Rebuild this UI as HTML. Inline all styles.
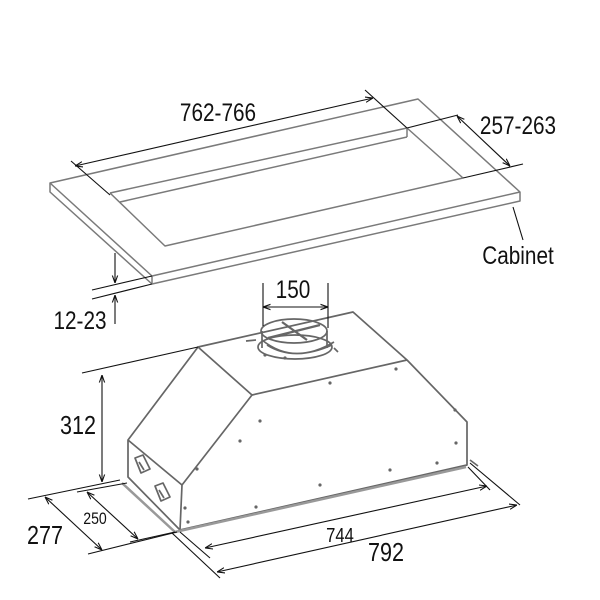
<!DOCTYPE html>
<html><head><meta charset="utf-8"><style>
html,body{margin:0;padding:0;background:#fff}
svg{display:block}
text{font-family:"Liberation Sans",sans-serif;fill:#111}
</style></head><body>
<svg width="600" height="600" viewBox="0 0 600 600" xmlns="http://www.w3.org/2000/svg">
<defs>
<marker id="a" viewBox="0 0 10 10" refX="10" refY="5" markerWidth="7" markerHeight="7" orient="auto-start-reverse"><path d="M0,1.5 L10,5 L0,8.5" fill="none" stroke="#111" stroke-width="1.4"/></marker>
</defs>
<!-- Cabinet -->
<g fill="none" stroke="#7a7a7a" stroke-width="1.5" stroke-linejoin="round">
<path d="M50,183 L418,99 L520,192 L520,201 L152,284 L50,192 Z"/>
<path d="M50,183 L152,276 L520,192"/>
<path d="M152,276 L152,284"/>
<path d="M110,193 L407,128 L463,178"/>
<path d="M120,202 L407,137"/>
<path d="M110,193 L165,246 L463,178"/>
<path d="M407,128 L407,137"/>
</g>
<!-- Cabinet dims -->
<g fill="none" stroke="#111" stroke-width="1.1">
<path d="M71,161 L110,195"/>
<path d="M365,90 L407,128"/>
<path d="M75,166 L373,98" marker-start="url(#a)" marker-end="url(#a)"/>
<path d="M407,128 L458,115"/>
<path d="M463,178 L523,164"/>
<path d="M457,116 L510,166" marker-start="url(#a)" marker-end="url(#a)"/>
<path d="M513,207 L523,240"/>
<path d="M92,290 L152,276"/>
<path d="M92,299 L152,284"/>
<path d="M115,253 L115,283" marker-end="url(#a)"/>
<path d="M115,324 L115,295" marker-end="url(#a)"/>
</g>
<g font-size="25">
<text x="218" y="121" text-anchor="middle" transform="translate(218 0) scale(0.83 1) translate(-218 0)">762-766</text>
<text x="518" y="134" text-anchor="middle" transform="translate(518 0) scale(0.83 1) translate(-518 0)">257-263</text>
<text x="518" y="264" text-anchor="middle" transform="translate(518 0) scale(0.83 1) translate(-518 0)">Cabinet</text>
<text x="80" y="329" text-anchor="middle" transform="translate(80 0) scale(0.83 1) translate(-80 0)">12-23</text>
</g>
<!-- Hood -->
<g fill="none" stroke="#666" stroke-width="1.7" stroke-linejoin="round">
<path d="M198,347 L353,312 L407,360 L467,422 L467,465 L180,530 L128,477 L128,440 Z"/>
<path d="M198,347 L252,395 L407,360"/>
<path d="M252,395 L182,485 L180,530"/>
<path d="M128,440 L182,485"/>
<path d="M122,483 L175,532 L466,467" stroke-width="2.5" stroke="#999"/>
<path d="M470,460 L478,466"/>
<path d="M135,458 l8,-3 l7,14 l-9,4 z M139,462 l5,8"/>
<path d="M155,486 l8,-3 l7,14 l-9,4 z M159,490 l5,8"/>
<path d="M267,345 Q294,362 332,345 M262,340 Q294,366 334,342"/>
<ellipse cx="295" cy="347" rx="37" ry="12"/>
<path d="M262,331 L262,348 M327,331 L327,348"/>
<ellipse cx="294" cy="331" rx="33" ry="12"/>
<path d="M268,338 L320,325 M282,322 L307,340" stroke-width="2.2"/>
<path d="M246,341 l10,-1 M334,348 l4,4"/>
</g>
<g fill="#666">
<circle cx="260" cy="421" r="1.6"/><circle cx="240" cy="441" r="1.6"/><circle cx="197" cy="469" r="1.6"/>
<circle cx="185" cy="508" r="1.6"/><circle cx="188" cy="522" r="1.6"/><circle cx="256" cy="507" r="1.6"/>
<circle cx="320" cy="485" r="1.6"/><circle cx="390" cy="470" r="1.6"/><circle cx="456" cy="443" r="1.6"/>
<circle cx="330" cy="383" r="1.6"/><circle cx="396" cy="369" r="1.6"/><circle cx="455" cy="410" r="1.6"/>
<circle cx="437" cy="463" r="1.6"/><circle cx="285" cy="358" r="1.6"/><circle cx="265" cy="355" r="1.6"/>
</g>
<!-- Hood dims -->
<g fill="none" stroke="#111" stroke-width="1.1">
<path d="M263,283 L263,326 M328,283 L328,328"/>
<path d="M263,307 L328,307" marker-start="url(#a)" marker-end="url(#a)"/>
<path d="M82,373 L198,347"/>
<path d="M102,375 L102,482" marker-start="url(#a)" marker-end="url(#a)"/>
<path d="M28,499 L120,480"/>
<path d="M77,492 L127,483"/>
<path d="M45,497 L102,550" marker-start="url(#a)" marker-end="url(#a)"/>
<path d="M88,554 L177,532"/>
<path d="M87,492 L138,539" marker-start="url(#a)" marker-end="url(#a)"/>
<path d="M130,542 L175,532"/>
<path d="M180,532 L210,558"/>
<path d="M468,467 L490,490"/>
<path d="M205,548 L487,486" marker-start="url(#a)" marker-end="url(#a)"/>
<path d="M172,533 L220,578"/>
<path d="M470,463 L520,505"/>
<path d="M217,572 L517,505" marker-start="url(#a)" marker-end="url(#a)"/>
</g>
<text x="293" y="298" font-size="25" text-anchor="middle" transform="translate(293 0) scale(0.83 1) translate(-293 0)">150</text>
<text x="78" y="434" font-size="26" text-anchor="middle" transform="translate(78 0) scale(0.83 1) translate(-78 0)">312</text>
<text x="45" y="544" font-size="26" text-anchor="middle" transform="translate(45 0) scale(0.83 1) translate(-45 0)">277</text>
<text x="95" y="524" font-size="17" text-anchor="middle" transform="translate(95 0) scale(0.83 1) translate(-95 0)">250</text>
<text x="340" y="542" font-size="20" text-anchor="middle" transform="translate(340 0) scale(0.83 1) translate(-340 0)">744</text>
<text x="386" y="561" font-size="26" text-anchor="middle" transform="translate(386 0) scale(0.83 1) translate(-386 0)">792</text>
</svg>
</body></html>
